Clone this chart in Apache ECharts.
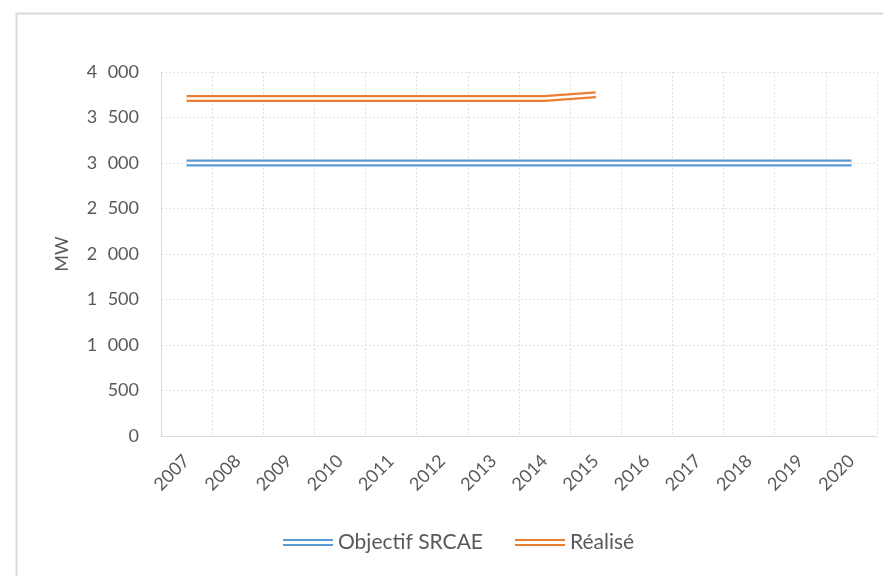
<!DOCTYPE html>
<html>
<head>
<meta charset="utf-8">
<script src="https://cdn.jsdelivr.net/npm/echarts@6/dist/echarts.min.js"></script>
<style>
  html, body { margin: 0; padding: 0; background: #fff; }
  #chart { width: 883px; height: 576px; }
</style>
</head>
<body>
<div id="chart"></div>
<script>
const years = ['2007', '2008', '2009', '2010', '2011', '2012', '2013', '2014', '2015', '2016', '2017', '2018', '2019', '2020'];
const objectif = [3000, 3000, 3000, 3000, 3000, 3000, 3000, 3000, 3000, 3000, 3000, 3000, 3000, 3000];
const realise = [3710, 3710, 3710, 3710, 3710, 3710, 3710, 3710, 3750, null, null, null, null, null];
const yTicks = [0, 500, 1000, 1500, 2000, 2500, 3000, 3500, 4000];

const blue = '#5b9bd5';
const orange = '#ed7d31';
const textColor = '#595959';
const font = 'Lato';
// icone double trait pour la légende
const doubleIcon = 'path://M0,0H50V2H0Z M0,5H50V7H0Z';

// séparateur de milliers façon Excel (espace large)
function fmt(v) {
  return String(v).replace(/\B(?=(\d{3})+(?!\d))/g, '\u2007');
}

// trait double : un trait épais + un trait blanc par dessus
function doubleLine(name, data, color, z) {
  return [
    {
      name: name, type: 'line', data: data, color: color,
      symbol: 'none', z: z, silent: true,
      lineStyle: { width: 7, color: color }
    },
    {
      name: name + '_gap', type: 'line', data: data,
      symbol: 'none', z: z + 1, silent: true,
      lineStyle: { width: 2.5, color: '#fff' }
    }
  ];
}

const chart = echarts.init(document.getElementById('chart'));
chart.setOption({
  animation: false,
  backgroundColor: '#fff',
  graphic: [{
    type: 'rect', left: 14, top: 11, silent: true,
    shape: { width: 900, height: 600 },
    style: { fill: 'none', stroke: '#d9d9d9', lineWidth: 2 }
  }],
  grid: { left: 161, right: 6, top: 72, bottom: 140 },
  legend: {
    left: 278, top: 527,
    itemWidth: 50, itemHeight: 7, itemGap: 32,
    textStyle: { color: textColor, fontSize: 21, fontFamily: font },
    data: [
      { name: 'Objectif SRCAE', icon: doubleIcon, itemStyle: { color: blue, borderWidth: 0 } },
      { name: 'Réalisé', icon: doubleIcon, itemStyle: { color: orange, borderWidth: 0 } }
    ]
  },
  xAxis: {
    type: 'category', data: years, boundaryGap: true,
    axisLine: { lineStyle: { color: '#d9d9d9', width: 1 } },
    axisTick: { show: false },
    splitLine: { show: true, lineStyle: { color: '#e3e3e3', type: [2, 2] } },
    axisLabel: { rotate: 45, interval: 0, margin: 22, color: textColor, fontSize: 18, fontFamily: font }
  },
  yAxis: {
    type: 'value', min: yTicks[0], max: yTicks[yTicks.length - 1], interval: 500,
    name: 'MW', nameLocation: 'middle', nameGap: 90, nameRotate: 90,
    nameTextStyle: { color: textColor, fontSize: 18, fontFamily: font },
    axisLine: { show: true, lineStyle: { color: '#d9d9d9', width: 1 } },
    axisTick: { show: false },
    splitLine: { lineStyle: { color: '#e3e3e3', type: [2, 2] } },
    axisLabel: { margin: 22, color: textColor, fontSize: 18, fontFamily: font, formatter: fmt }
  },
  series: [].concat(
    doubleLine('Objectif SRCAE', objectif, blue, 3),
    doubleLine('Réalisé', realise, orange, 5)
  )
});
</script>
</body>
</html>
